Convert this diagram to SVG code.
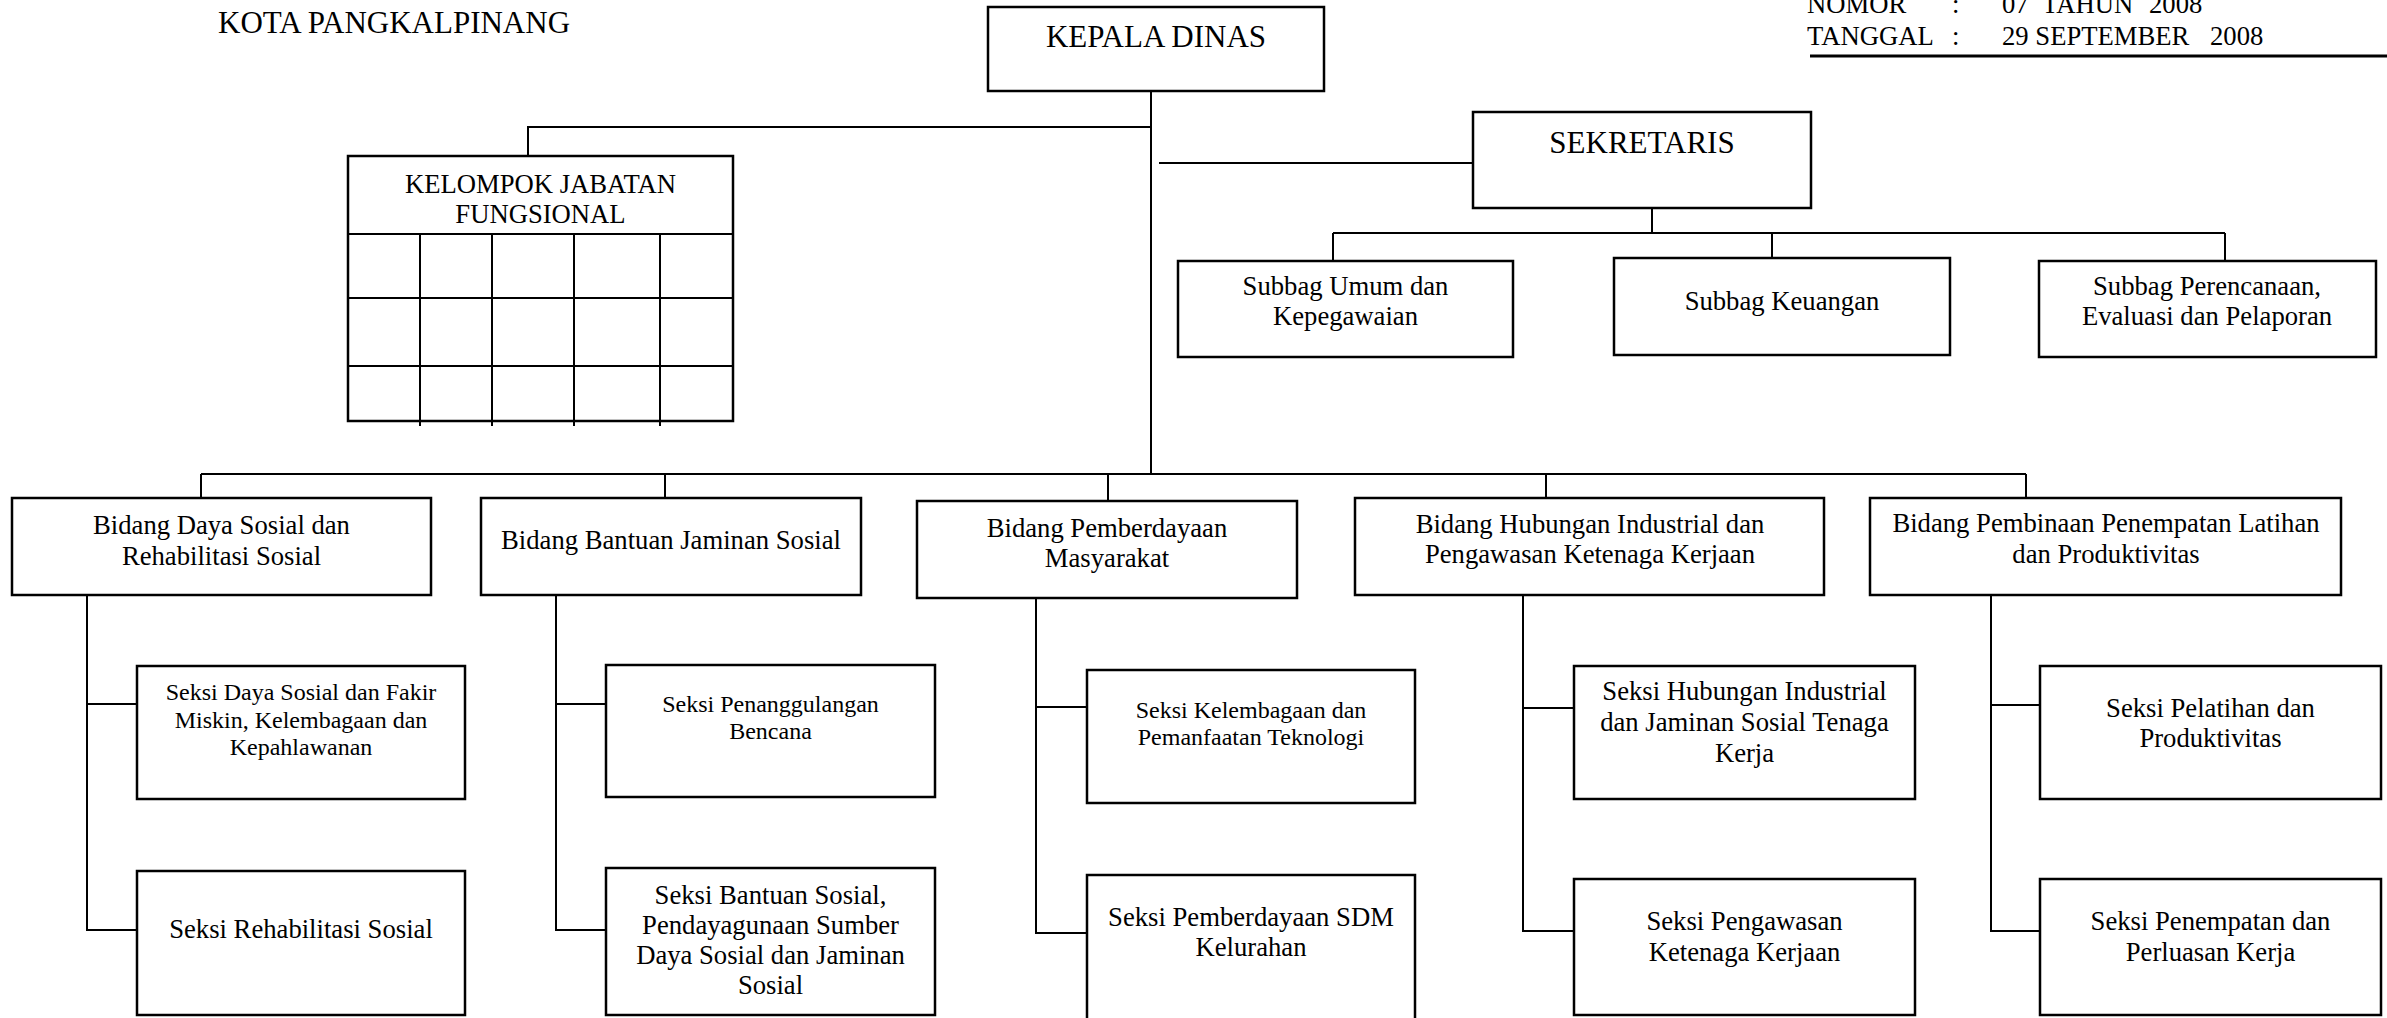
<svg xmlns="http://www.w3.org/2000/svg" width="2387" height="1018" viewBox="0 0 2387 1018">
<style>
text{font-family:"Liberation Serif","Times New Roman",serif;fill:#000}
.big{font-size:31px}
.m{font-size:26.67px}
.s{font-size:24px}
.c{text-anchor:middle}
.box{fill:#fff;stroke:#000;stroke-width:2.5}
.ln{fill:none;stroke:#000;stroke-width:2}
</style>
<rect width="2387" height="1018" fill="#fff"/>

<g id="header">
<text class="big" x="218" y="33">KOTA PANGKALPINANG</text>
<text class="m" x="1807" y="13">NOMOR</text>
<text class="m" x="1952" y="13">:</text>
<text class="m" x="2002" y="13">07</text>
<text class="m" x="2042" y="13">TAHUN</text>
<text class="m" x="2149" y="13">2008</text>
<text class="m" x="1807" y="45">TANGGAL</text>
<text class="m" x="1952" y="45">:</text>
<text class="m" x="2002" y="45">29 SEPTEMBER</text>
<text class="m" x="2210" y="45">2008</text>
<line x1="1810" y1="56" x2="2387" y2="56" stroke="#000" stroke-width="3"/>
</g>

<g id="connectors">
<path class="ln" d="M1151 91V474"/>
<path class="ln" d="M1152 127H528V156"/>
<path class="ln" d="M1159 163H1473"/>
<path class="ln" d="M1652 208V233"/>
<path class="ln" d="M1333 233H2225"/>
<path class="ln" d="M1333 233V261M1772 233V258M2225 233V261"/>
<path class="ln" d="M201 474H2026"/>
<path class="ln" d="M201 474V498M665 474V498M1108 474V501M1546 474V498M2026 474V498"/>
<path class="ln" d="M87 595V930H137M87 704H137"/>
<path class="ln" d="M556 595V930H606M556 704H606"/>
<path class="ln" d="M1036 598V933H1087M1036 707H1087"/>
<path class="ln" d="M1523 595V931H1574M1523 708H1574"/>
<path class="ln" d="M1991 595V931H2040M1991 705H2040"/>
</g>

<g id="kepala-dinas">
<rect class="box" x="988" y="7" width="336" height="84"/>
<text class="big c" x="1156" y="47">KEPALA DINAS</text>
</g>

<g id="kelompok-jabatan-fungsional">
<rect class="box" x="348" y="156" width="385" height="265"/>
<path class="ln" d="M348 234H733M348 298H733M348 366H733M420 234V426M492 234V426M574 234V426M660 234V426"/>
<text class="m c" x="540.5" y="193">KELOMPOK JABATAN</text>
<text class="m c" x="540.5" y="223">FUNGSIONAL</text>
</g>

<g id="sekretaris">
<rect class="box" x="1473" y="112" width="338" height="96"/>
<text class="big c" x="1642" y="153">SEKRETARIS</text>
</g>

<g id="subbag-umum">
<rect class="box" x="1178" y="261" width="335" height="96"/>
<text class="m c" x="1345.5" y="295">Subbag Umum dan</text>
<text class="m c" x="1345.5" y="325">Kepegawaian</text>
</g>
<g id="subbag-keuangan">
<rect class="box" x="1614" y="258" width="336" height="97"/>
<text class="m c" x="1782" y="310">Subbag Keuangan</text>
</g>
<g id="subbag-perencanaan">
<rect class="box" x="2039" y="261" width="337" height="96"/>
<text class="m c" x="2207" y="295">Subbag Perencanaan,</text>
<text class="m c" x="2207" y="325">Evaluasi dan Pelaporan</text>
</g>

<g id="bidang-daya-sosial">
<rect class="box" x="12" y="498" width="419" height="97"/>
<text class="m c" x="221.5" y="534">Bidang Daya Sosial dan</text>
<text class="m c" x="221.5" y="565">Rehabilitasi Sosial</text>
</g>
<g id="bidang-bantuan">
<rect class="box" x="481" y="498" width="380" height="97"/>
<text class="m c" x="671" y="549">Bidang Bantuan Jaminan Sosial</text>
</g>
<g id="bidang-pemberdayaan">
<rect class="box" x="917" y="501" width="380" height="97"/>
<text class="m c" x="1107" y="537">Bidang Pemberdayaan</text>
<text class="m c" x="1107" y="567">Masyarakat</text>
</g>
<g id="bidang-hubungan-industrial">
<rect class="box" x="1355" y="498" width="469" height="97"/>
<text class="m c" x="1590" y="533">Bidang Hubungan Industrial dan</text>
<text class="m c" x="1590" y="563">Pengawasan Ketenaga Kerjaan</text>
</g>
<g id="bidang-pembinaan">
<rect class="box" x="1870" y="498" width="471" height="97"/>
<text class="m c" x="2106" y="532">Bidang Pembinaan Penempatan Latihan</text>
<text class="m c" x="2106" y="563">dan Produktivitas</text>
</g>

<g id="seksi-daya-sosial">
<rect class="box" x="137" y="666" width="328" height="133"/>
<text class="s c" x="301" y="700">Seksi Daya Sosial dan Fakir</text>
<text class="s c" x="301" y="727.5">Miskin, Kelembagaan dan</text>
<text class="s c" x="301" y="755">Kepahlawanan</text>
</g>
<g id="seksi-rehabilitasi">
<rect class="box" x="137" y="871" width="328" height="144"/>
<text class="m c" x="301" y="938">Seksi Rehabilitasi Sosial</text>
</g>
<g id="seksi-penanggulangan">
<rect class="box" x="606" y="665" width="329" height="132"/>
<text class="s c" x="770.5" y="712">Seksi Penanggulangan</text>
<text class="s c" x="770.5" y="739">Bencana</text>
</g>
<g id="seksi-bantuan-sosial">
<rect class="box" x="606" y="868" width="329" height="147"/>
<text class="m c" x="770.5" y="904">Seksi Bantuan Sosial,</text>
<text class="m c" x="770.5" y="934">Pendayagunaan Sumber</text>
<text class="m c" x="770.5" y="964">Daya Sosial dan Jaminan</text>
<text class="m c" x="770.5" y="994">Sosial</text>
</g>
<g id="seksi-kelembagaan">
<rect class="box" x="1087" y="670" width="328" height="133"/>
<text class="s c" x="1251" y="718">Seksi Kelembagaan dan</text>
<text class="s c" x="1251" y="745">Pemanfaatan Teknologi</text>
</g>
<g id="seksi-pemberdayaan-sdm">
<rect class="box" x="1087" y="875" width="328" height="150"/>
<text class="m c" x="1251" y="926">Seksi Pemberdayaan SDM</text>
<text class="m c" x="1251" y="956">Kelurahan</text>
</g>
<g id="seksi-hubungan-industrial">
<rect class="box" x="1574" y="666" width="341" height="133"/>
<text class="m c" x="1744.5" y="700">Seksi Hubungan Industrial</text>
<text class="m c" x="1744.5" y="731">dan Jaminan Sosial Tenaga</text>
<text class="m c" x="1744.5" y="762">Kerja</text>
</g>
<g id="seksi-pengawasan">
<rect class="box" x="1574" y="879" width="341" height="136"/>
<text class="m c" x="1744.5" y="930">Seksi Pengawasan</text>
<text class="m c" x="1744.5" y="960.5">Ketenaga Kerjaan</text>
</g>
<g id="seksi-pelatihan">
<rect class="box" x="2040" y="666" width="341" height="133"/>
<text class="m c" x="2210.5" y="716.5">Seksi Pelatihan dan</text>
<text class="m c" x="2210.5" y="747">Produktivitas</text>
</g>
<g id="seksi-penempatan">
<rect class="box" x="2040" y="879" width="341" height="136"/>
<text class="m c" x="2210.5" y="930">Seksi Penempatan dan</text>
<text class="m c" x="2210.5" y="960.5">Perluasan Kerja</text>
</g>
</svg>
